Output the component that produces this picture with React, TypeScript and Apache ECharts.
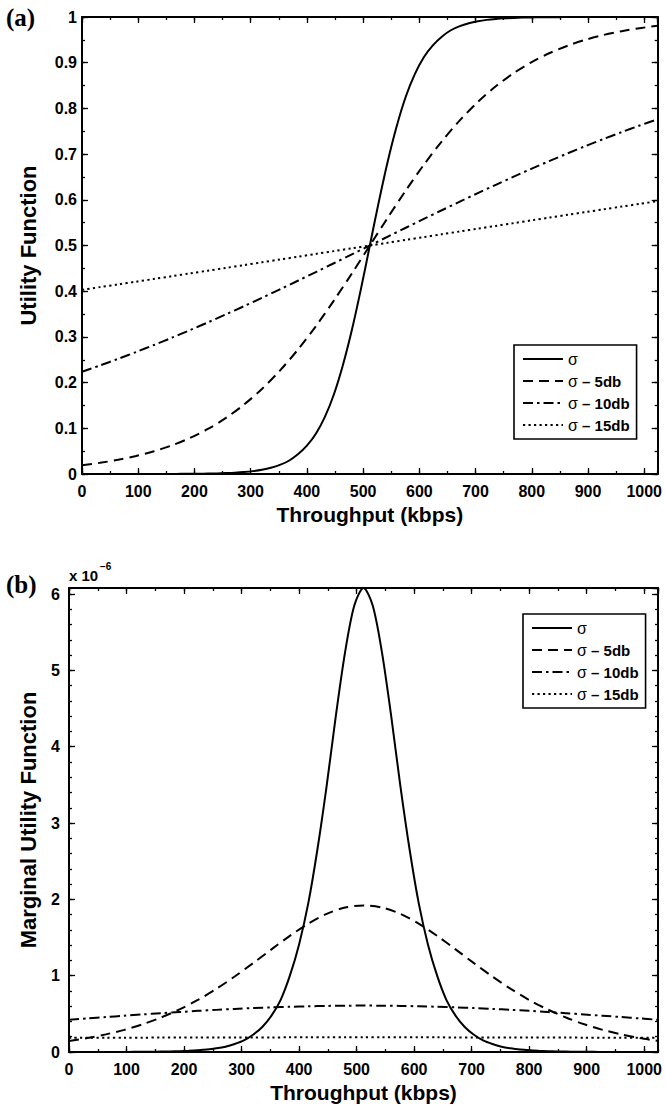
import React, { useEffect, useRef } from "react";
import * as echarts from "echarts";

// ---- data ----
const SERIES_NAMES = ["σ", "σ – 5db", "σ – 10db", "σ – 15db"];
const X_TICK_VALUES = [0, 100, 200, 300, 400, 500, 600, 700, 800, 900, 1000];

// fine x grid (kbps) for the steep σ curve
const X_FINE = [0, 16, 32, 48, 64, 80, 96, 112, 128, 144, 160, 176, 192, 208, 224, 240, 256, 272, 288, 304, 320, 336, 352, 368, 384, 400, 416, 432, 448, 464, 480, 496, 512, 528, 544, 560, 576, 592, 608, 624, 640, 656, 672, 688, 704, 720, 736, 752, 768, 784, 800, 816, 832, 848, 864, 880, 896, 912, 928, 944, 960, 976, 992, 1008, 1024];
// coarse x grid (kbps) for the gentler curves
const X_COARSE = [0, 32, 64, 96, 128, 160, 192, 224, 256, 288, 320, 352, 384, 416, 448, 480, 512, 544, 576, 608, 640, 672, 704, 736, 768, 800, 832, 864, 896, 928, 960, 992, 1024];

// panel (a): utility function
const UTIL_SIGMA = [0, 0, 0, 0, 0, 0, 0, 0.0001, 0.0001, 0.0001, 0.0002, 0.0003, 0.0004, 0.0006, 0.0009, 0.0013, 0.002, 0.0029, 0.0043, 0.0063, 0.0093, 0.0137, 0.02, 0.029, 0.043, 0.062, 0.088, 0.125, 0.174, 0.238, 0.315, 0.404, 0.5, 0.596, 0.685, 0.762, 0.826, 0.875, 0.912, 0.938, 0.957, 0.971, 0.98, 0.9863, 0.9907, 0.9937, 0.9957, 0.9971, 0.998, 0.9987, 0.9991, 0.9994, 0.9996, 0.9997, 0.9998, 0.9999, 0.9999, 0.9999, 1, 1, 1, 1, 1, 1, 1];
const UTIL_5DB = [0.0192, 0.0244, 0.031, 0.0393, 0.0497, 0.0627, 0.0788, 0.0985, 0.1227, 0.1517, 0.1861, 0.2262, 0.2721, 0.3234, 0.3795, 0.4388, 0.5, 0.5612, 0.6205, 0.6766, 0.7279, 0.7738, 0.8139, 0.8483, 0.8773, 0.9015, 0.9212, 0.9373, 0.9503, 0.9607, 0.969, 0.9756, 0.9808];
const UTIL_10DB = [0.2237, 0.2375, 0.2519, 0.2668, 0.2823, 0.2983, 0.3148, 0.3318, 0.3493, 0.3672, 0.3854, 0.404, 0.4229, 0.4419, 0.4612, 0.4806, 0.5, 0.5194, 0.5388, 0.5581, 0.5771, 0.596, 0.6146, 0.6328, 0.6507, 0.6682, 0.6852, 0.7017, 0.7177, 0.7332, 0.7481, 0.7625, 0.7763];
const UTIL_15DB = [0.4029, 0.4089, 0.4148, 0.4208, 0.4268, 0.4328, 0.4389, 0.4449, 0.451, 0.4571, 0.4632, 0.4693, 0.4754, 0.4816, 0.4877, 0.4939, 0.5, 0.5061, 0.5123, 0.5184, 0.5246, 0.5307, 0.5368, 0.5429, 0.549, 0.5551, 0.5611, 0.5672, 0.5732, 0.5792, 0.5852, 0.5911, 0.5971];

// panel (b): marginal utility function (x 10^-6)
const MARG_SIGMA = [0, 0, 0, 0, 0, 0.001, 0.001, 0.002, 0.002, 0.003, 0.005, 0.007, 0.01, 0.015, 0.022, 0.032, 0.048, 0.07, 0.105, 0.152, 0.226, 0.328, 0.476, 0.684, 1.0, 1.41, 1.95, 2.66, 3.49, 4.41, 5.24, 5.85, 6.08, 5.85, 5.24, 4.41, 3.49, 2.66, 1.95, 1.41, 1.0, 0.684, 0.476, 0.328, 0.226, 0.152, 0.105, 0.07, 0.048, 0.032, 0.022, 0.015, 0.01, 0.007, 0.005, 0.003, 0.002, 0.002, 0.001, 0.001, 0, 0, 0, 0, 0];
const MARG_5DB = [0.145, 0.183, 0.231, 0.29, 0.363, 0.452, 0.558, 0.682, 0.827, 0.989, 1.164, 1.345, 1.522, 1.682, 1.81, 1.893, 1.921, 1.893, 1.81, 1.682, 1.522, 1.345, 1.164, 0.989, 0.827, 0.682, 0.558, 0.452, 0.363, 0.29, 0.231, 0.183, 0.145];
const MARG_10DB = [0.422, 0.44, 0.458, 0.475, 0.492, 0.509, 0.524, 0.539, 0.552, 0.565, 0.576, 0.585, 0.593, 0.599, 0.604, 0.607, 0.608, 0.607, 0.604, 0.599, 0.593, 0.585, 0.576, 0.565, 0.552, 0.539, 0.524, 0.509, 0.492, 0.475, 0.458, 0.44, 0.422];
const MARG_15DB = [0.185, 0.186, 0.187, 0.187, 0.188, 0.189, 0.189, 0.19, 0.19, 0.191, 0.191, 0.191, 0.192, 0.192, 0.192, 0.192, 0.192, 0.192, 0.192, 0.192, 0.192, 0.191, 0.191, 0.191, 0.19, 0.19, 0.189, 0.189, 0.188, 0.187, 0.187, 0.186, 0.185];

// ---- styling ----
const FONT = "Liberation Sans";
const BLACK = "#000";
const LINE_TYPES: any[] = ["solid", [10, 6], [10, 4, 2.5, 4], [2.2, 3.3]];

const pairs = (xs: number[], ys: number[]) => xs.map((x, i) => [x, ys[i]]);

function makeAxes(grid: number, cfg: any) {
  const tickStyle = { color: BLACK, width: 1.3 };
  const lineStyle = { color: BLACK, width: 2 };
  const labelStyle = {
    color: BLACK,
    fontFamily: FONT,
    fontWeight: "bold",
    fontSize: 16,
  };
  const base = { type: "value", gridIndex: grid, splitLine: { show: false } };
  const xBase = { ...base, min: 0, max: 1024 };
  const yBase = { ...base, min: 0, max: cfg.yMax };
  const xAxes = [
    {
      ...xBase,
      position: "bottom",
      interval: 100,
      axisLine: { show: true, onZero: false, lineStyle },
      axisTick: { show: true, inside: true, length: 6, lineStyle: tickStyle },
      axisLabel: {
        ...labelStyle,
        margin: cfg.xLabelMargin,
        showMaxLabel: false,
        formatter: (v: number) => (X_TICK_VALUES.includes(v) ? String(v) : ""),
      },
      name: "Throughput (kbps)",
      nameLocation: "middle",
      nameGap: cfg.xNameGap,
      nameTextStyle: { color: BLACK, fontFamily: FONT, fontWeight: "bold", fontSize: 21 },
    },
    {
      ...xBase,
      position: "bottom",
      interval: 50,
      axisLine: { show: false, onZero: false },
      axisTick: { show: true, inside: true, length: 3, lineStyle: tickStyle },
      axisLabel: { show: false },
    },
    {
      ...xBase,
      position: "top",
      interval: 100,
      axisLine: { show: true, onZero: false, lineStyle },
      axisTick: { show: true, inside: true, length: 6, lineStyle: tickStyle },
      axisLabel: { show: false },
    },
    {
      ...xBase,
      position: "top",
      interval: 50,
      axisLine: { show: false, onZero: false },
      axisTick: { show: true, inside: true, length: 3, lineStyle: tickStyle },
      axisLabel: { show: false },
    },
  ];
  const yAxes = [
    {
      ...yBase,
      position: "left",
      interval: cfg.yInterval,
      axisLine: { show: true, onZero: false, lineStyle },
      axisTick: { show: true, inside: true, length: 6, lineStyle: tickStyle },
      axisLabel: { ...labelStyle, margin: cfg.yLabelMargin, showMaxLabel: cfg.showMaxY },
      name: cfg.yName,
      nameLocation: "middle",
      nameGap: cfg.yNameGap,
      nameTextStyle: { color: BLACK, fontFamily: FONT, fontWeight: "bold", fontSize: 22 },
    },
    {
      ...yBase,
      position: "left",
      interval: cfg.yMinor,
      axisLine: { show: false, onZero: false },
      axisTick: { show: true, inside: true, length: 3, lineStyle: tickStyle },
      axisLabel: { show: false },
    },
    {
      ...yBase,
      position: "right",
      interval: cfg.yInterval,
      axisLine: { show: true, onZero: false, lineStyle },
      axisTick: { show: true, inside: true, length: 6, lineStyle: tickStyle },
      axisLabel: { show: false },
    },
    {
      ...yBase,
      position: "right",
      interval: cfg.yMinor,
      axisLine: { show: false, onZero: false },
      axisTick: { show: true, inside: true, length: 3, lineStyle: tickStyle },
      axisLabel: { show: false },
    },
  ];
  return { xAxes, yAxes };
}

function lineSeries(name: string, idx: number, data: number[][], axisIndex: number) {
  return {
    type: "line",
    name,
    data,
    xAxisIndex: axisIndex,
    yAxisIndex: axisIndex,
    symbol: "none",
    showSymbol: false,
    smooth: 0.3,
    clip: true,
    silent: true,
    lineStyle: { color: BLACK, width: 2, type: LINE_TYPES[idx] },
    itemStyle: { color: BLACK },
    z: 3,
  };
}

function legendFor(left: number, top: number) {
  return {
    orient: "vertical",
    left,
    top,
    data: SERIES_NAMES,
    selectedMode: false,
    itemWidth: 40,
    itemHeight: 14,
    itemGap: 6,
    padding: [6, 7, 6, 8],
    borderColor: BLACK,
    borderWidth: 1.6,
    backgroundColor: "#fff",
    itemStyle: { color: "rgba(0,0,0,0)", borderWidth: 0, opacity: 0 },
    formatter: (name: string) => `{s|σ}{b|${name.slice(1)}}`,
    textStyle: {
      color: BLACK,
      fontFamily: FONT,
      fontSize: 15,
      fontWeight: "bold",
      lineHeight: 14,
      rich: {
        s: { fontFamily: FONT, fontSize: 16, fontWeight: "normal", color: BLACK, lineHeight: 14 },
        b: { fontFamily: FONT, fontSize: 15, fontWeight: "bold", color: BLACK, lineHeight: 14 },
      },
    },
    z: 10,
  };
}

export default function App() {
  const ref = useRef<HTMLDivElement>(null);

  useEffect(() => {
    if (!ref.current) return;
    const chart = echarts.init(ref.current, null, { renderer: "svg" });

    const a = makeAxes(0, {
      yMax: 1,
      yInterval: 0.1,
      yMinor: 0.05,
      yName: "Utility Function",
      yNameGap: 43,
      yLabelMargin: 5,
      xLabelMargin: 9,
      xNameGap: 30,
      showMaxY: true,
    });
    const b = makeAxes(1, {
      yMax: 6.08,
      yInterval: 1,
      yMinor: 0.2,
      yName: "Marginal Utility Function",
      yNameGap: 30,
      yLabelMargin: 9,
      xLabelMargin: 9,
      xNameGap: 30,
      showMaxY: false,
    });

    const utilData = [
      pairs(X_FINE, UTIL_SIGMA),
      pairs(X_COARSE, UTIL_5DB),
      pairs(X_COARSE, UTIL_10DB),
      pairs(X_COARSE, UTIL_15DB),
    ];
    const margData = [
      pairs(X_FINE, MARG_SIGMA),
      pairs(X_COARSE, MARG_5DB),
      pairs(X_COARSE, MARG_10DB),
      pairs(X_COARSE, MARG_15DB),
    ];

    const series = [
      ...SERIES_NAMES.map((n, i) => lineSeries(n, i, utilData[i], 0)),
      ...SERIES_NAMES.map((n, i) => lineSeries(n, i, margData[i], 4)),
    ];

    chart.setOption({
      animation: false,
      backgroundColor: "#fff",
      grid: [
        { left: 82, right: 5, top: 17, height: 457, containLabel: false },
        { left: 69, right: 5, top: 588, height: 464, containLabel: false },
      ],
      xAxis: [...a.xAxes, ...b.xAxes],
      yAxis: [...a.yAxes, ...b.yAxes],
      legend: [legendFor(514, 345), legendFor(523, 614)],
      series,
      graphic: [
        {
          type: "text",
          x: 6,
          y: 17,
          style: { text: "(a)", font: 'bold 25px "Liberation Serif"', fill: BLACK, verticalAlign: "middle" },
        },
        {
          type: "text",
          x: 6,
          y: 584,
          style: { text: "(b)", font: 'bold 25px "Liberation Serif"', fill: BLACK, verticalAlign: "middle" },
        },
        {
          type: "text",
          x: 69,
          y: 575,
          style: { text: "x 10", font: `bold 15px "${FONT}"`, fill: BLACK, verticalAlign: "middle" },
        },
        {
          type: "text",
          x: 100,
          y: 566,
          style: { text: "−6", font: `bold 10px "${FONT}"`, fill: BLACK, verticalAlign: "middle" },
        },
      ],
    });

    return () => chart.dispose();
  }, []);

  return (
    <div
      ref={ref}
      style={{ position: "absolute", left: 0, top: 0, width: 665, height: 1105, background: "#fff" }}
    />
  );
}
